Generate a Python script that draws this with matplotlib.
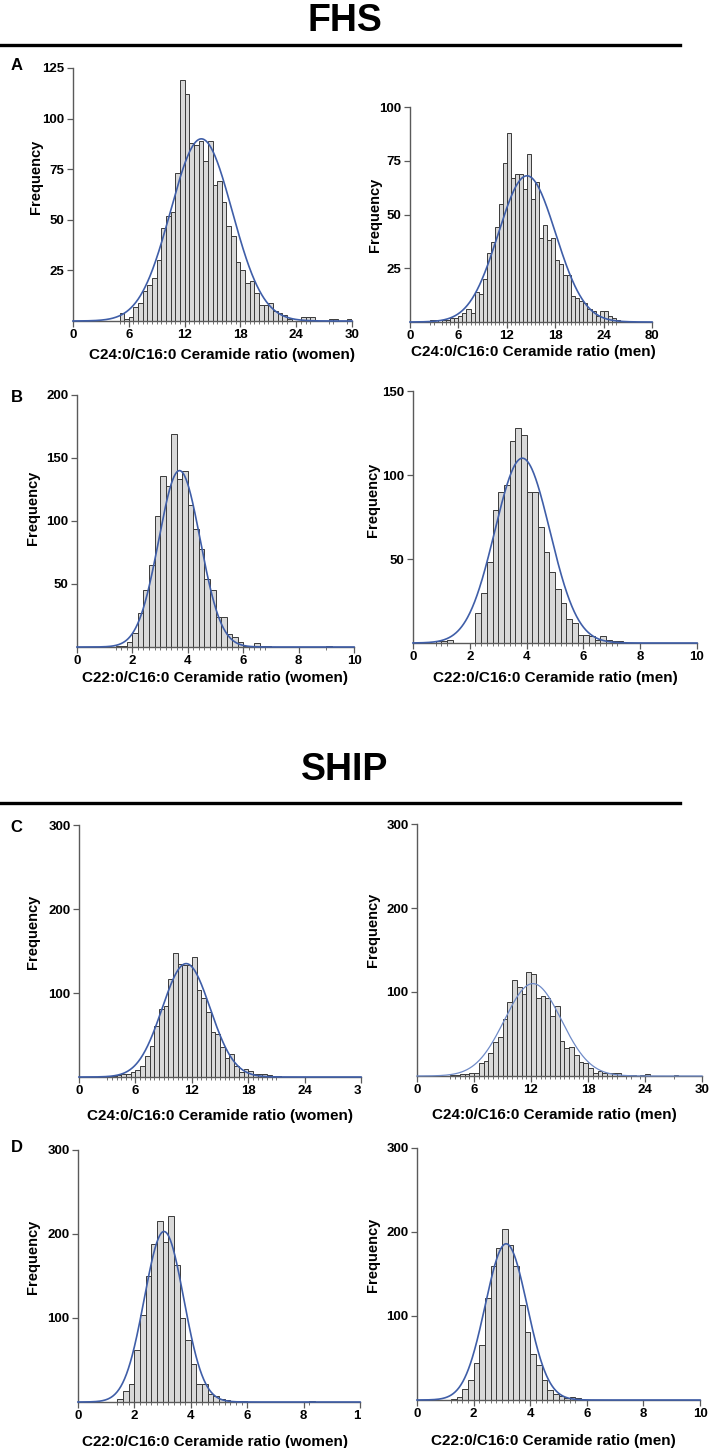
import numpy as np
import matplotlib.pyplot as plt

# ---------------------------------------------------------
# Data (bin left edge, bin width, counts)
# ---------------------------------------------------------
fhs_c24_women_start, fhs_c24_women_width = 5.0, 0.5
fhs_c24_women_counts = [4, 1, 2, 7, 9, 15, 18, 21, 30, 46, 52, 54, 73, 119, 112, 88, 87, 89,
                        79, 89, 67, 69, 59, 47, 42, 29, 25, 19, 20, 14, 8, 8, 9, 5, 4, 3, 1,
                        0, 0, 2, 2, 2, 0, 0, 0, 1, 1, 0, 0, 1]
fhs_c24_men_start, fhs_c24_men_width = 2.5, 0.5
fhs_c24_men_counts = [1, 1, 0, 1, 1, 2, 2, 3, 4, 6, 4, 14, 13, 20, 32, 37, 44, 55, 74, 88,
                      67, 69, 69, 62, 78, 57, 65, 39, 45, 38, 39, 29, 27, 22, 22, 12, 11, 10,
                      9, 6, 5, 3, 5, 5, 3, 2, 1]
fhs_c22_women_start, fhs_c22_women_width = 1.4, 0.2
fhs_c22_women_counts = [1, 1, 4, 11, 27, 45, 65, 104, 136, 128, 169, 133, 140, 113, 94, 78,
                        54, 45, 24, 24, 10, 8, 4, 1, 1, 3, 1, 1, 0, 0, 0, 0, 0, 0, 0, 0,
                        0, 0, 1]
fhs_c22_men_start, fhs_c22_men_width = 0.8, 0.2
fhs_c22_men_counts = [1, 1, 2, 0, 0, 0, 0, 18, 30, 48, 79, 90, 94, 120, 128, 124, 90, 90, 69,
                      54, 42, 32, 24, 14, 12, 5, 5, 4, 2, 4, 2, 1, 1]
ship_c24_women_start, ship_c24_women_width = 3.0, 0.5
ship_c24_women_counts = [1, 1, 2, 3, 4, 6, 8, 13, 25, 37, 61, 81, 84, 117, 148, 135, 133, 133,
                         143, 103, 94, 77, 54, 51, 36, 23, 27, 13, 6, 9, 7, 3, 4, 3, 2, 1, 1]
ship_c24_men_start, ship_c24_men_width = 3.5, 0.5
ship_c24_men_counts = [1, 1, 2, 2, 3, 3, 16, 18, 27, 40, 47, 68, 88, 114, 106, 98, 124, 121, 93,
                       95, 93, 71, 83, 42, 33, 34, 25, 17, 15, 10, 3, 6, 3, 4, 4, 3, 0, 1, 1,
                       0, 1, 2, 0, 0, 0, 0, 0, 1]
ship_c22_women_start, ship_c22_women_width = 1.4, 0.2
ship_c22_women_counts = [3, 13, 22, 62, 103, 150, 188, 216, 191, 221, 163, 100, 74, 45, 21, 21,
                         9, 7, 4, 2, 1, 1, 1, 0, 0, 0, 0, 0, 0, 0, 0, 0, 0, 0, 1]
ship_c22_men_start, ship_c22_men_width = 1.2, 0.2
ship_c22_men_counts = [1, 4, 13, 24, 44, 65, 121, 159, 181, 203, 185, 160, 113, 81, 55, 42,
                       24, 12, 7, 5, 2, 4, 2]

# fitted normal curves: (mean, sd, peak height)
fhs_c24_women_fit = (13.8, 3.3, 90)
fhs_c24_men_fit = (14.5, 3.55, 68)
fhs_c22_women_fit = (3.7, 0.75, 140)
fhs_c22_men_fit = (3.85, 0.97, 110)
ship_c24_women_fit = (11.4, 2.55, 135)
ship_c24_men_fit = (12.2, 3.0, 110)
ship_c22_women_fit = (3.05, 0.7, 203)
ship_c22_men_fit = (3.15, 0.74, 186)

c24_ticks = [0, 6, 12, 18, 24, 30]
c22_ticks = [0, 2, 4, 6, 8, 10]

# ---------------------------------------------------------
# Figure set-up (pixel helpers)
# ---------------------------------------------------------
plt.rcParams['font.family'] = ['Liberation Sans', 'DejaVu Sans']
plt.rcParams['font.weight'] = 'bold'

W, H = 709, 1448
fig = plt.figure(figsize=(W / 100, H / 100), dpi=100)

BAR_FACE = '#d9d9d9'
BAR_EDGE = '#3a3a3a'
AXIS_GRAY = '#5a5a5a'
CURVE_BLUE = '#3f5ea8'


def panel(rect, start, width, counts, fit, xticks, xlabels, ymax, yticks,
          xlabel, ylab_xy, xlab_xy, curve_color=CURVE_BLUE, curve_lw=1.2):
    l, r, t, b = rect
    ax = fig.add_axes([l / W, 1 - b / H, (r - l) / W, (b - t) / H])
    edges = start + width * np.arange(len(counts))
    ax.bar(edges, counts, width=width, align='edge', color=BAR_FACE,
           edgecolor=BAR_EDGE, linewidth=0.7, zorder=2)

    xmax = xticks[-1]
    mu, sd, peak = fit
    xs = np.linspace(0, xmax, 600)
    ax.plot(xs, peak * np.exp(-0.5 * ((xs - mu) / sd) ** 2), color=curve_color,
            lw=curve_lw, zorder=3, clip_on=False)

    ax.set_xlim(0, xmax)
    ax.set_ylim(0, ymax)
    for s in ['top', 'right']:
        ax.spines[s].set_visible(False)
    ax.spines['left'].set_color(AXIS_GRAY)
    ax.spines['bottom'].set_color(AXIS_GRAY)
    ax.spines['left'].set_linewidth(1.0)
    ax.spines['bottom'].set_linewidth(1.0)

    ax.set_xticks(xticks)
    ax.set_xticklabels(xlabels)
    ax.set_yticks(yticks)
    ax.set_xticks(edges[(np.array(counts) > 0)], minor=True)
    ax.tick_params(axis='both', which='major', length=4, width=0.9, color=AXIS_GRAY,
                   labelsize=9.5, pad=2)
    ax.tick_params(axis='x', which='minor', length=2.5, width=0.5, color=BAR_EDGE)
    for lab in ax.get_xticklabels() + ax.get_yticklabels():
        lab.set_fontweight('bold')

    ax.set_xlabel(xlabel, fontsize=11, fontweight='bold')
    ax.set_ylabel('Frequency', fontsize=10.5, fontweight='bold')
    ax.xaxis.set_label_coords((xlab_xy[0] - l) / (r - l), (b - xlab_xy[1]) / (b - t))
    ax.yaxis.set_label_coords((ylab_xy[0] - l) / (r - l), (b - ylab_xy[1]) / (b - t))
    ax.xaxis.label.set_va('center')
    ax.yaxis.label.set_va('center')
    ax.yaxis.label.set_ha('center')
    return ax


def header(text, y_text, y_line):
    fig.text(345 / W, 1 - y_text / H, text, ha='center', va='center', fontsize=27,
             fontweight='bold', family=['Liberation Sans Narrow', 'Liberation Sans'])
    fig.add_artist(plt.Line2D([0, 680 / W], [1 - y_line / H] * 2, color='black', lw=2.4))


def letter(s, x, y):
    fig.text(x / W, 1 - y / H, s, ha='center', va='center', fontsize=12, fontweight='bold')


# ---------------------------------------------------------
# FHS
# ---------------------------------------------------------
header('FHS', 21, 45)
letter('A', 17, 65)
letter('B', 17, 397)

panel((73, 352, 68, 321), fhs_c24_women_start, fhs_c24_women_width, fhs_c24_women_counts,
      fhs_c24_women_fit, c24_ticks, [str(v) for v in c24_ticks], 125, [25, 50, 75, 100, 125],
      'C24:0/C16:0 Ceramide ratio (women)', (36, 177), (222, 355))
panel((410, 652, 107, 322), fhs_c24_men_start, fhs_c24_men_width, fhs_c24_men_counts,
      fhs_c24_men_fit, c24_ticks, ['0', '6', '12', '18', '24', '80'], 100, [25, 50, 75, 100],
      'C24:0/C16:0 Ceramide ratio (men)', (375, 215), (533, 352))
panel((77, 354, 395, 647), fhs_c22_women_start, fhs_c22_women_width, fhs_c22_women_counts,
      fhs_c22_women_fit, c22_ticks, [str(v) for v in c22_ticks], 200, [50, 100, 150, 200],
      'C22:0/C16:0 Ceramide ratio (women)', (33, 508), (215, 678))
panel((413, 697, 391, 643), fhs_c22_men_start, fhs_c22_men_width, fhs_c22_men_counts,
      fhs_c22_men_fit, c22_ticks, [str(v) for v in c22_ticks], 150, [50, 100, 150],
      'C22:0/C16:0 Ceramide ratio (men)', (373, 500), (555, 678))

# ---------------------------------------------------------
# SHIP
# ---------------------------------------------------------
header('SHIP', 770, 803)
letter('C', 16, 827)
letter('D', 17, 1147)

ax = panel((79, 361, 825, 1077), ship_c24_women_start, ship_c24_women_width,
           ship_c24_women_counts, ship_c24_women_fit, c24_ticks,
           ['0', '6', '12', '18', '24', '3'], 300, [100, 200, 300],
           'C24:0/C16:0 Ceramide ratio (women)', (33, 932), (220, 1116))
ax.get_xticklabels()[-1].set_ha('right')
panel((417, 702, 824, 1076), ship_c24_men_start, ship_c24_men_width, ship_c24_men_counts,
      ship_c24_men_fit, c24_ticks, [str(v) for v in c24_ticks], 300, [100, 200, 300],
      'C24:0/C16:0 Ceramide ratio (men)', (373, 930), (554, 1115),
      curve_color='#6f8bc8', curve_lw=0.9)
ax = panel((78, 360, 1150, 1402), ship_c22_women_start, ship_c22_women_width,
           ship_c22_women_counts, ship_c22_women_fit, c22_ticks,
           ['0', '2', '4', '6', '8', '1'], 300, [100, 200, 300],
           'C22:0/C16:0 Ceramide ratio (women)', (33, 1257), (215, 1442))
ax.get_xticklabels()[-1].set_ha('right')
panel((417, 700, 1148, 1400), ship_c22_men_start, ship_c22_men_width, ship_c22_men_counts,
      ship_c22_men_fit, c22_ticks, [str(v) for v in c22_ticks], 300, [100, 200, 300],
      'C22:0/C16:0 Ceramide ratio (men)', (373, 1255), (553, 1441))

fig.savefig('out.png', dpi=100)
